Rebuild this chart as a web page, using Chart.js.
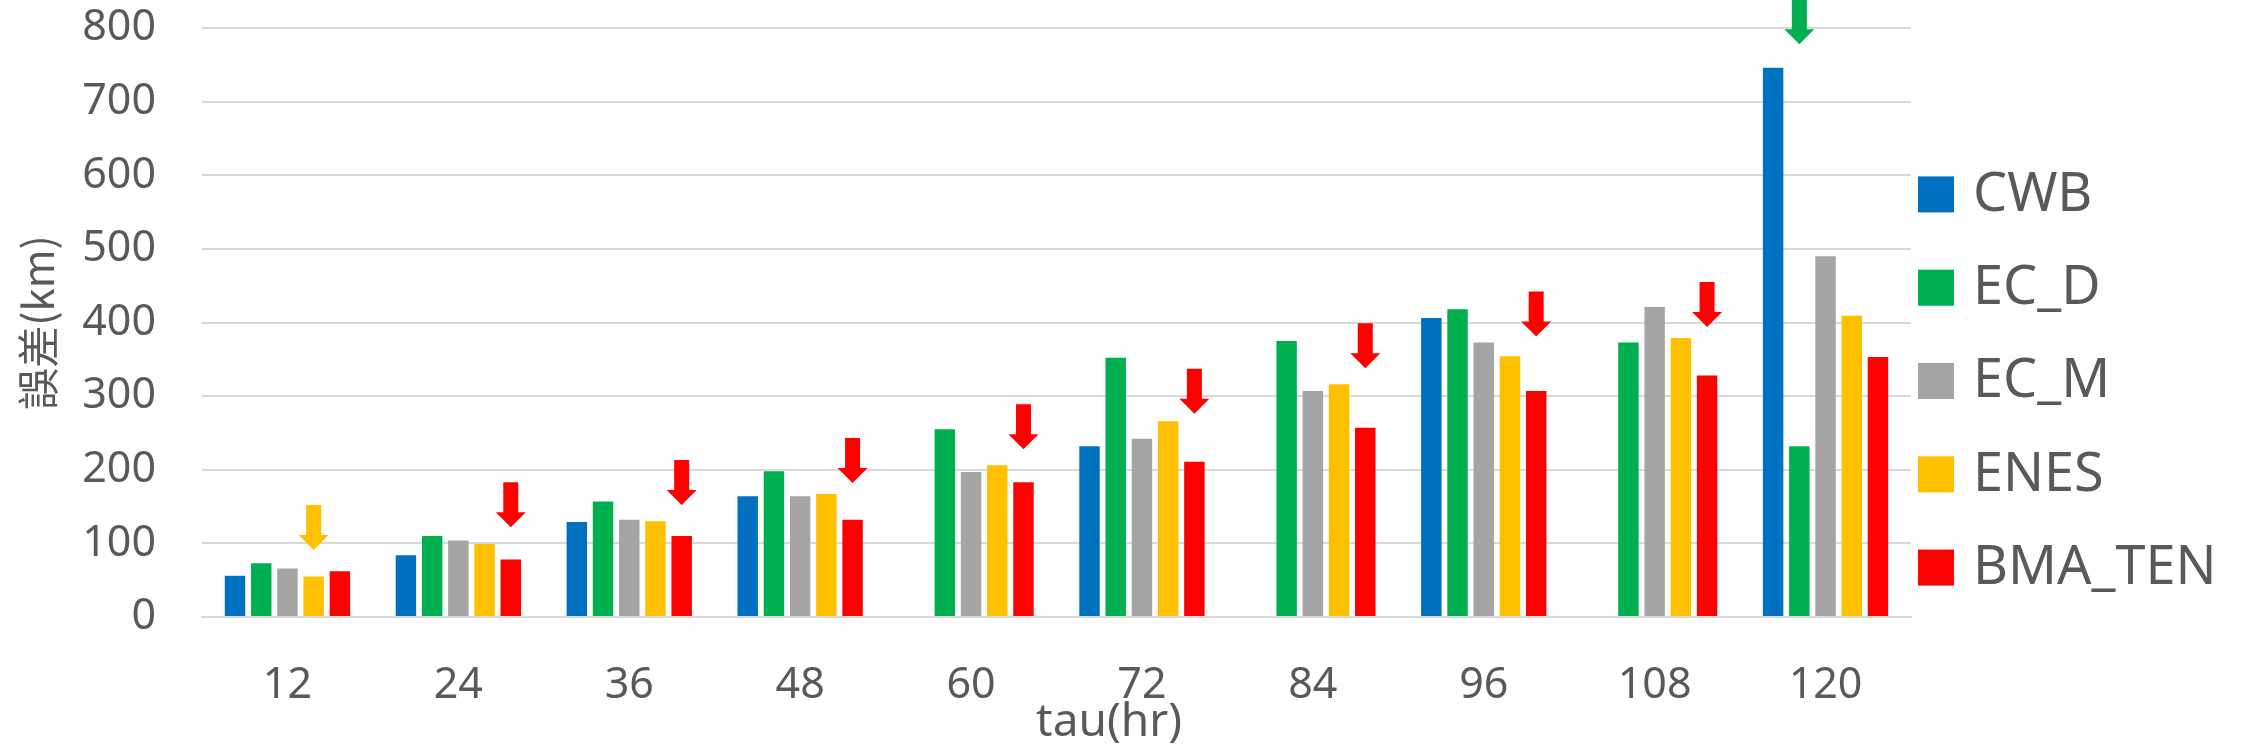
<!DOCTYPE html>
<html lang="zh-Hant">
<head>
<meta charset="utf-8">
<title>颱風路徑預報誤差</title>
<script src="https://cdn.jsdelivr.net/npm/chart.js"></script>
<style>
    html, body { margin: 0; padding: 0; background: #ffffff; }
    canvas { display: block; }
</style>
</head>
<body>
<canvas id="grafChyby" width="2250" height="752"></canvas>
<script>
// 預報時間 (hr)
const tau = ['12', '24', '36', '48', '60', '72', '84', '96', '108', '120'];

// 各模式路徑誤差 (km)，null = 無資料
const cwb    = [56, 84, 129, 164, null, 232, null, 406, null, 746];
const ecD    = [73, 110, 157, 198, 255, 352, 375, 418, 373, 232];
const ecM    = [66, 104, 132, 164, 197, 242, 307, 373, 421, 490];
const enes   = [55, 99, 130, 167, 206, 266, 316, 354, 379, 409];
const bmaTen = [62, 78, 110, 132, 183, 211, 257, 307, 328, 353];

const modely = ['CWB', 'EC_D', 'EC_M', 'ENES', 'BMA_TEN'];
const barvy  = ['#0070C0', '#00B050', '#A5A5A5', '#FFC000', '#FF0000'];

// 每個 tau 誤差最小的模式 (箭頭標示) 與箭頭尖端位置 (km)
const nejlepsi   = [3, 4, 4, 4, 4, 4, 4, 4, 4, 1];
const sipkaHrot  = [91, 122, 152, 182, 228, 276, 338, 381, 394, 778];

const yTicks = [0, 100, 200, 300, 400, 500, 600, 700, 800];

const sedaText = '#595959';
const mrizka = '#D9D9D9';

// 向下箭頭
const sipkyPlugin = {
    id: 'sipky',
    afterDatasetsDraw(chart) {
        const ctx = chart.ctx;
        const y = chart.scales.y;
        ctx.save();
        nejlepsi.forEach((ds, i) => {
            const bar = chart.getDatasetMeta(ds).data[i];
            if (!bar) return;
            const x = bar.x;
            const tip = y.getPixelForValue(sipkaHrot[i]);
            const hlava = 15, delka = 45, hridel = 7.5, sirka = 15;
            ctx.fillStyle = barvy[ds];
            ctx.beginPath();
            ctx.moveTo(x - hridel, tip - delka);
            ctx.lineTo(x + hridel, tip - delka);
            ctx.lineTo(x + hridel, tip - hlava);
            ctx.lineTo(x + sirka, tip - hlava);
            ctx.lineTo(x, tip);
            ctx.lineTo(x - sirka, tip - hlava);
            ctx.lineTo(x - hridel, tip - hlava);
            ctx.closePath();
            ctx.fill();
        });
        ctx.restore();
    }
};

// 右側圖例 + x 軸標題 (置中於整張圖，不是繪圖區)
const legendaPlugin = {
    id: 'legenda',
    afterDraw(chart) {
        const ctx = chart.ctx;
        const area = chart.chartArea;
        const box = 36, krok = 93.3;
        const x0 = area.right + 7;
        const yStart = chart.height / 2 + 5 - krok * (modely.length - 1) / 2;
        ctx.save();
        ctx.font = '54px "Noto Sans", sans-serif';
        ctx.textBaseline = 'middle';
        ctx.textAlign = 'left';
        chart.data.datasets.forEach((d, i) => {
            const cy = yStart + i * krok;
            ctx.fillStyle = d.backgroundColor;
            ctx.fillRect(x0, cy - box / 2, box, box);
            ctx.fillStyle = sedaText;
            ctx.fillText(d.label, x0 + 55, cy + 1);
        });

        ctx.font = '46px "Noto Sans", sans-serif';
        ctx.textAlign = 'center';
        ctx.fillStyle = sedaText;
        ctx.fillText('tau(hr)', chart.width / 2 - 16, chart.height - 29);
        ctx.restore();
    }
};

function graf() {
    const ctx = document.getElementById('grafChyby').getContext('2d');
    const serie = [cwb, ecD, ecM, enes, bmaTen];

    new Chart(ctx, {
        type: 'bar',
        data: {
            labels: tau,
            datasets: serie.map((hodnoty, i) => ({
                label: modely[i],
                data: hodnoty,
                backgroundColor: barvy[i],
                borderWidth: 0,
                categoryPercentage: 0.767,
                barPercentage: 0.78
            }))
        },
        options: {
            responsive: false,
            maintainAspectRatio: false,
            animation: false,
            layout: {
                padding: { top: 28, right: 339, left: 0, bottom: 0 }
            },
            plugins: {
                legend: { display: false },
                tooltip: { enabled: false }
            },
            scales: {
                x: {
                    grid: { display: false },
                    border: { color: mrizka, width: 2 },
                    ticks: {
                        color: sedaText,
                        padding: 35,
                        font: { family: '"Noto Sans", sans-serif', size: 43 }
                    },
                    afterFit(scale) { scale.height = 135; }
                },
                y: {
                    min: 0,
                    max: 800,
                    afterBuildTicks(scale) {
                        scale.ticks = yTicks.map(v => ({ value: v }));
                    },
                    // 標籤與繪圖區的間距用看不見的刻度線撐開
                    grid: {
                        color: mrizka,
                        lineWidth: 2,
                        drawTicks: true,
                        tickLength: 46,
                        tickColor: 'transparent'
                    },
                    border: { display: false },
                    ticks: {
                        color: sedaText,
                        padding: 0,
                        font: { family: '"Noto Sans", sans-serif', size: 43 }
                    },
                    title: {
                        display: true,
                        text: '誤差(km)',
                        color: sedaText,
                        padding: { top: 13, bottom: 0 },
                        font: { family: '"Noto Sans CJK TC", "Noto Sans", sans-serif', size: 42 }
                    },
                    afterFit(scale) { scale.width = 202; }
                }
            }
        },
        plugins: [sipkyPlugin, legendaPlugin]
    });
}
document.addEventListener('DOMContentLoaded', graf);
</script>
</body>
</html>
